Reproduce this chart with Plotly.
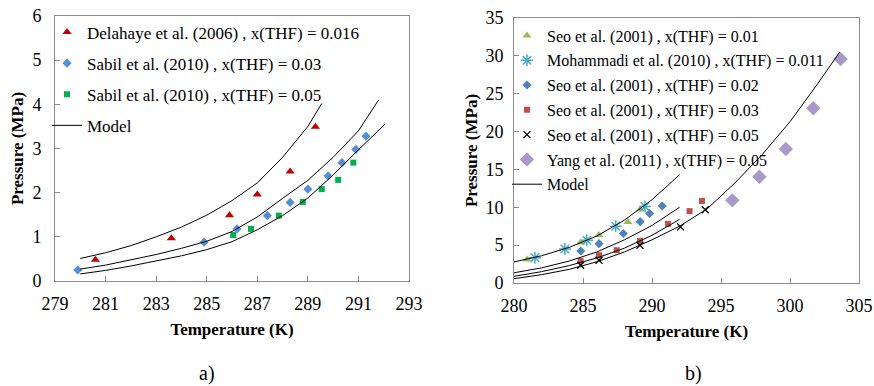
import plotly.graph_objects as go

# ---------------- Panel a) data ----------------
delahaye_T = [280.6, 283.6, 285.9, 287.0, 288.3, 289.3]
delahaye_P = [0.48, 0.97, 1.49, 1.96, 2.48, 3.49]

sabil03_T = [279.9, 284.9, 286.2, 287.4, 288.3, 289.0, 289.8, 290.35, 290.9, 291.3]
sabil03_P = [0.25, 0.88, 1.18, 1.48, 1.78, 2.08, 2.38, 2.68, 2.98, 3.28]

sabil05_T = [286.05, 286.75, 287.85, 288.8, 289.55, 290.2, 290.8]
sabil05_P = [1.04, 1.18, 1.48, 1.79, 2.08, 2.29, 2.68]

model_a1_T = [280.0, 281.0, 282.0, 283.0, 284.0, 285.0, 286.0, 287.0, 288.0, 289.0, 289.55]
model_a1_P = [0.51, 0.64, 0.80, 1.00, 1.22, 1.49, 1.82, 2.22, 2.80, 3.50, 4.02]

model_a2_T = [280.0, 281.0, 282.0, 283.0, 284.0, 285.0, 286.0, 287.0, 288.0, 289.0, 290.0, 291.0, 291.8]
model_a2_P = [0.27, 0.36, 0.48, 0.60, 0.74, 0.90, 1.12, 1.45, 1.87, 2.28, 2.80, 3.40, 4.10]

model_a3_T = [280.0, 281.0, 282.0, 283.0, 284.0, 285.0, 286.0, 287.0, 288.0, 289.0, 290.0, 291.0, 292.05]
model_a3_P = [0.16, 0.24, 0.34, 0.45, 0.57, 0.71, 0.89, 1.16, 1.48, 1.88, 2.40, 2.97, 3.55]

# ---------------- Panel b) data ----------------
seo01_T = [280.95, 284.83, 286.15, 288.25, 289.14]
seo01_P = [3.1, 5.35, 6.33, 8.06, 9.71]

moh_T = [281.52, 283.69, 285.28, 287.37, 289.49]
moh_P = [3.33, 4.5, 5.65, 7.5, 10.1]

seo02_T = [284.84, 286.16, 287.92, 289.14, 289.83, 290.74]
seo02_P = [4.22, 5.2, 6.53, 8.1, 9.18, 10.17]

seo03_T = [284.83, 286.16, 287.44, 289.13, 291.16, 292.72, 293.62]
seo03_P = [2.91, 3.67, 4.33, 5.56, 7.81, 9.49, 10.84]

seo05_T = [284.83, 286.16, 289.13, 292.07, 293.86]
seo05_P = [2.34, 3.0, 4.99, 7.41, 9.67]

yang_T = [295.82, 297.78, 299.7, 301.69, 303.67]
yang_P = [10.92, 14.03, 17.7, 23.08, 29.57]

model_b1_T = [280.0, 282.0, 284.0, 286.0, 288.0, 290.0, 292.0]
model_b1_P = [2.78, 3.6, 4.7, 6.2, 8.3, 11.0, 14.3]

model_b2_T = [280.0, 282.0, 284.0, 286.0, 288.0, 290.0, 292.0]
model_b2_P = [1.35, 2.0, 2.9, 4.1, 5.7, 7.6, 10.0]

model_b3_T = [280.0, 282.0, 284.0, 286.0, 288.0, 290.0, 292.0]
model_b3_P = [0.88, 1.5, 2.3, 3.3, 4.6, 6.3, 8.4]

model_b4_T = [280.0, 282.0, 284.0, 286.0, 288.0, 290.0, 292.0, 294.0, 296.0, 298.0, 300.0, 302.0, 303.6]
model_b4_P = [0.57, 1.1, 1.8, 2.8, 4.1, 5.7, 7.5, 9.8, 13.2, 17.0, 21.3, 26.3, 30.5]

FONT = "Liberation Serif"
W, H = 874, 386

fig = go.Figure()

def scat(x, y, name, symbol, color, size, axes, legend, lw=0, show=True, group=None):
    xa, ya = axes
    fig.add_trace(go.Scatter(
        x=x, y=y, mode="markers", name=name, xaxis=xa, yaxis=ya,
        legend=legend, legendgroup=group or name, showlegend=show,
        marker=dict(symbol=symbol, color=color, size=size,
                    line=dict(width=lw, color=color))))

def model(x, y, axes, legend, show):
    xa, ya = axes
    fig.add_trace(go.Scatter(
        x=x, y=y, mode="lines", name="Model", xaxis=xa, yaxis=ya,
        legend=legend, legendgroup="model_" + legend, showlegend=show,
        line=dict(color="black", width=1)))

A = ("x", "y")
B = ("x2", "y2")

scat(delahaye_T, delahaye_P, "Delahaye et al. (2006) , x(THF) = 0.016", "triangle-up", "#C00000", 8, A, "legend")
scat(sabil03_T, sabil03_P, "Sabil et al. (2010) , x(THF) = 0.03", "diamond", "#558ED5", 7, A, "legend")
scat(sabil05_T, sabil05_P, "Sabil et al. (2010) , x(THF) = 0.05", "square", "#00B050", 6, A, "legend")
model(model_a1_T, model_a1_P, A, "legend", True)
model(model_a2_T, model_a2_P, A, "legend", False)
model(model_a3_T, model_a3_P, A, "legend", False)

scat(seo01_T, seo01_P, "Seo et al. (2001) , x(THF) = 0.01", "triangle-up", "#9BBB59", 8, B, "legend2")
scat(moh_T, moh_P, "Mohammadi et al. (2010) , x(THF) = 0.011", "asterisk-open", "#4BACC6", 10, B, "legend2", lw=1.5)
scat(seo02_T, seo02_P, "Seo et al. (2001) , x(THF) = 0.02", "diamond", "#4F81BD", 7, B, "legend2")
scat(seo03_T, seo03_P, "Seo et al. (2001) , x(THF) = 0.03", "square", "#C0504D", 6, B, "legend2")
scat(seo05_T, seo05_P, "Seo et al. (2001) , x(THF) = 0.05", "x-thin-open", "black", 7, B, "legend2", lw=1.3)
scat(yang_T, yang_P, "Yang et al. (2011) , x(THF) = 0.05", "diamond", "#A899C8", 11, B, "legend2")
model(model_b1_T, model_b1_P, B, "legend2", True)
model(model_b2_T, model_b2_P, B, "legend2", False)
model(model_b3_T, model_b3_P, B, "legend2", False)
model(model_b4_T, model_b4_P, B, "legend2", False)

def px_x(p):
    return p / W

def px_y(p):
    return 1 - p / H

axis_common = dict(
    showline=True, mirror=True, linecolor="#8C8C8C", linewidth=1,
    ticks="inside", ticklen=5, tickcolor="#8C8C8C", showgrid=False,
    zeroline=False, tickfont=dict(family=FONT, size=18, color="black"),
    automargin=False,
    title_font=dict(family=FONT, size=17, color="black"),
)

fig.update_layout(
    width=W, height=H, margin=dict(l=0, r=0, t=0, b=0),
    paper_bgcolor="white", plot_bgcolor="white",
    font=dict(family=FONT, color="black"),
    xaxis=dict(domain=[px_x(55), px_x(409)], range=[279, 293], dtick=2, tick0=279,
               anchor="y", ticklabelstandoff=6,
               title=dict(text="<b>Temperature (K)</b>", standoff=10), **axis_common),
    yaxis=dict(domain=[px_y(281), px_y(16)], range=[0, 6], dtick=1,
               anchor="x", ticklabelstandoff=9,
               title=dict(text="<b>Pressure (MPa)</b>", standoff=4), **axis_common),
    xaxis2=dict(domain=[px_x(514), px_x(859)], range=[280, 305], dtick=5,
                anchor="y2", ticklabelstandoff=6,
                title=dict(text="<b>Temperature (K)</b>", standoff=10), **axis_common),
    yaxis2=dict(domain=[px_y(283), px_y(18)], range=[0, 35], dtick=5,
                anchor="x2", ticklabelstandoff=6,
                title=dict(text="<b>Pressure (MPa)</b>", standoff=3), **axis_common),
    legend=dict(x=px_x(47), y=px_y(14.5), xanchor="left", yanchor="top",
                bgcolor="rgba(0,0,0,0)", traceorder="grouped", tracegroupgap=6,
                font=dict(family=FONT, size=17, color="black"), itemwidth=30),
    legend2=dict(x=px_x(507), y=px_y(18.5), xanchor="left", yanchor="top",
                 bgcolor="rgba(0,0,0,0)", traceorder="grouped", tracegroupgap=1,
                 font=dict(family=FONT, size=16, color="black"), itemwidth=30),
    annotations=[
        dict(text="a)", x=px_x(207), y=px_y(373), xref="paper", yref="paper",
             xanchor="center", yanchor="middle",
             showarrow=False, font=dict(family=FONT, size=20, color="black")),
        dict(text="b)", x=px_x(693), y=px_y(373), xref="paper", yref="paper",
             xanchor="center", yanchor="middle",
             showarrow=False, font=dict(family=FONT, size=20, color="black")),
    ],
)

fig.write_html("out.html")
